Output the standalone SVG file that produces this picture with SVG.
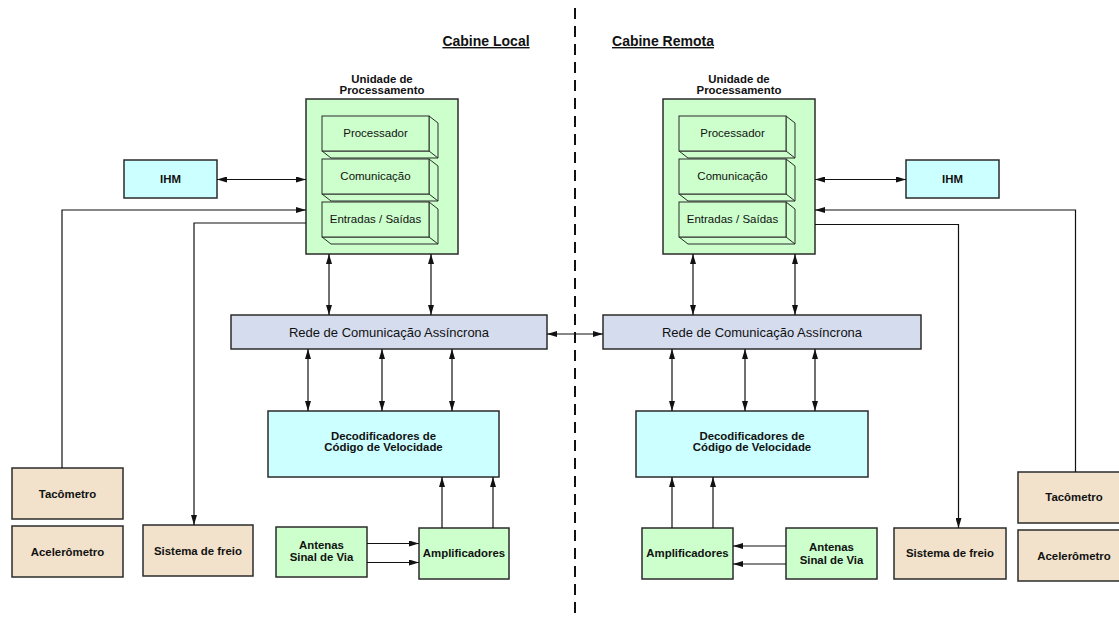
<svg xmlns="http://www.w3.org/2000/svg" width="1119" height="620" viewBox="0 0 1119 620">
<style>
text{font-family:"Liberation Sans",Arial,sans-serif;fill:#111;text-anchor:middle}
.title{font-size:14px;font-weight:bold;text-decoration:underline}
.b{font-size:11.4px;font-weight:bold}
.r{font-size:11.5px}
.rede{font-size:13px}
.box{stroke:#2b2b2b;stroke-width:1.5}
.green{fill:#CCFFCC}
.cyan{fill:#CCFFFF}
.blue{fill:#D4DCEE}
.tan{fill:#F2E2CC}
.face{fill:#CCFFCC;stroke:#2b2b2b;stroke-width:1}
.c{fill:none;stroke:#111;stroke-width:1.2}
.dash{fill:none;stroke:#111;stroke-width:2;stroke-dasharray:11 7}
</style>
<defs>
<marker id="ah" viewBox="0 0 10 6" refX="10" refY="3" markerWidth="10" markerHeight="6" markerUnits="userSpaceOnUse" orient="auto-start-reverse"><path d="M0,0 L10,3 L0,6 z" fill="#111"/></marker>
<g id="box3d">
<path class="face" d="M107,0 L116,7 L116,42 L9,42 L0,35 L107,35 Z M107,35 L116,42"/>
<rect class="face" x="0" y="0" width="107" height="35"/>
</g>
</defs>
<rect width="1119" height="620" fill="#fff"/>
<line class="dash" x1="575" y1="8" x2="575" y2="620"/>
<text class="title" x="486" y="46">Cabine Local</text>
<text class="title" x="663" y="46">Cabine Remota</text>

<g id="unit-left">
<text class="b" x="382" y="83">Unidade de</text>
<text class="b" x="382" y="94">Processamento</text>
<rect class="box green" x="306" y="99" width="152" height="155"/>
<g id="proc-left"><use href="#box3d" x="322" y="116"/><text class="r" x="375.5" y="137">Processador</text></g>
<g id="com-left"><use href="#box3d" x="322" y="159"/><text class="r" x="375.5" y="180">Comunicação</text></g>
<g id="es-left"><use href="#box3d" x="322" y="202"/><text class="r" x="375.5" y="223">Entradas / Saídas</text></g>
</g>
<g id="unit-right">
<text class="b" x="739" y="83">Unidade de</text>
<text class="b" x="739" y="94">Processamento</text>
<rect class="box green" x="663" y="99" width="152" height="155"/>
<g id="proc-right"><use href="#box3d" x="679" y="116"/><text class="r" x="732.5" y="137">Processador</text></g>
<g id="com-right"><use href="#box3d" x="679" y="159"/><text class="r" x="732.5" y="180">Comunicação</text></g>
<g id="es-right"><use href="#box3d" x="679" y="202"/><text class="r" x="732.5" y="223">Entradas / Saídas</text></g>
</g>

<g id="ihm-left"><rect class="box cyan" x="124" y="160" width="93" height="38"/><text class="b" x="170.5" y="183">IHM</text></g>
<g id="ihm-right"><rect class="box cyan" x="906" y="160" width="93" height="38"/><text class="b" x="952.5" y="183">IHM</text></g>

<g id="rede-left"><rect class="box blue" x="231" y="315" width="316" height="34"/><text class="rede" x="389" y="336.5">Rede de Comunicação Assíncrona</text></g>
<g id="rede-right"><rect class="box blue" x="603" y="315" width="318" height="34"/><text class="rede" x="762" y="336.5">Rede de Comunicação Assíncrona</text></g>

<g id="decod-left"><rect class="box cyan" x="268" y="411" width="231" height="66"/><text class="b" x="383.5" y="439.5">Decodificadores de</text><text class="b" x="383.5" y="451">Código de Velocidade</text></g>
<g id="decod-right"><rect class="box cyan" x="636" y="411" width="232" height="66"/><text class="b" x="752" y="439.5">Decodificadores de</text><text class="b" x="752" y="451">Código de Velocidade</text></g>

<g id="taco-left"><rect class="box tan" x="12" y="468" width="111" height="51"/><text class="b" x="67.5" y="497.5">Tacômetro</text></g>
<g id="acel-left"><rect class="box tan" x="12" y="526" width="111" height="51"/><text class="b" x="67.5" y="556">Acelerômetro</text></g>
<g id="freio-left"><rect class="box tan" x="143" y="525" width="110" height="51"/><text class="b" x="198" y="554.5">Sistema de freio</text></g>
<g id="antenas-left"><rect class="box green" x="276" y="527" width="91" height="50"/><text class="b" x="321.5" y="548.5">Antenas</text><text class="b" x="321.5" y="561">Sinal de Via</text></g>
<g id="amp-left"><rect class="box green" x="419" y="528" width="90" height="51"/><text class="b" x="464" y="557">Amplificadores</text></g>

<g id="amp-right"><rect class="box green" x="642" y="528" width="91" height="51"/><text class="b" x="687.5" y="557">Amplificadores</text></g>
<g id="antenas-right"><rect class="box green" x="786" y="528" width="91" height="51"/><text class="b" x="831.5" y="551">Antenas</text><text class="b" x="831.5" y="563.5">Sinal de Via</text></g>
<g id="freio-right"><rect class="box tan" x="894" y="528" width="112" height="51"/><text class="b" x="950" y="557">Sistema de freio</text></g>
<g id="taco-right"><rect class="box tan" x="1018" y="472" width="112" height="51"/><text class="b" x="1074" y="501">Tacômetro</text></g>
<g id="acel-right"><rect class="box tan" x="1018" y="530" width="112" height="51"/><text class="b" x="1074" y="560">Acelerômetro</text></g>

<g id="connectors">
<path class="c" d="M217,179.5 H306" marker-start="url(#ah)" marker-end="url(#ah)"/>
<path class="c" d="M62,468 V210 H306" marker-end="url(#ah)"/>
<path class="c" d="M306,223 H194 V525" marker-end="url(#ah)"/>
<path class="c" d="M329,254 V315" marker-start="url(#ah)" marker-end="url(#ah)"/>
<path class="c" d="M431,254 V315" marker-start="url(#ah)" marker-end="url(#ah)"/>
<path class="c" d="M308,349 V411" marker-start="url(#ah)" marker-end="url(#ah)"/>
<path class="c" d="M382,349 V411" marker-start="url(#ah)" marker-end="url(#ah)"/>
<path class="c" d="M452,349 V411" marker-start="url(#ah)" marker-end="url(#ah)"/>
<path class="c" d="M547,334 H603" marker-start="url(#ah)" marker-end="url(#ah)"/>
<path class="c" d="M442,528 V477" marker-end="url(#ah)"/>
<path class="c" d="M493,528 V477" marker-end="url(#ah)"/>
<path class="c" d="M367,543.5 H419" marker-end="url(#ah)"/>
<path class="c" d="M367,562.5 H419" marker-end="url(#ah)"/>
<path class="c" d="M815,179.5 H906" marker-start="url(#ah)" marker-end="url(#ah)"/>
<path class="c" d="M1075.5,472 V210 H815" marker-end="url(#ah)"/>
<path class="c" d="M815,224.5 H958.5 V528" marker-end="url(#ah)"/>
<path class="c" d="M693,254 V315" marker-start="url(#ah)" marker-end="url(#ah)"/>
<path class="c" d="M795,254 V315" marker-start="url(#ah)" marker-end="url(#ah)"/>
<path class="c" d="M672,349 V411" marker-start="url(#ah)" marker-end="url(#ah)"/>
<path class="c" d="M745,349 V411" marker-start="url(#ah)" marker-end="url(#ah)"/>
<path class="c" d="M815,349 V411" marker-start="url(#ah)" marker-end="url(#ah)"/>
<path class="c" d="M672,528 V477" marker-end="url(#ah)"/>
<path class="c" d="M713,528 V477" marker-end="url(#ah)"/>
<path class="c" d="M786,546 H733" marker-end="url(#ah)"/>
<path class="c" d="M786,564 H733" marker-end="url(#ah)"/>
</g>
</svg>
